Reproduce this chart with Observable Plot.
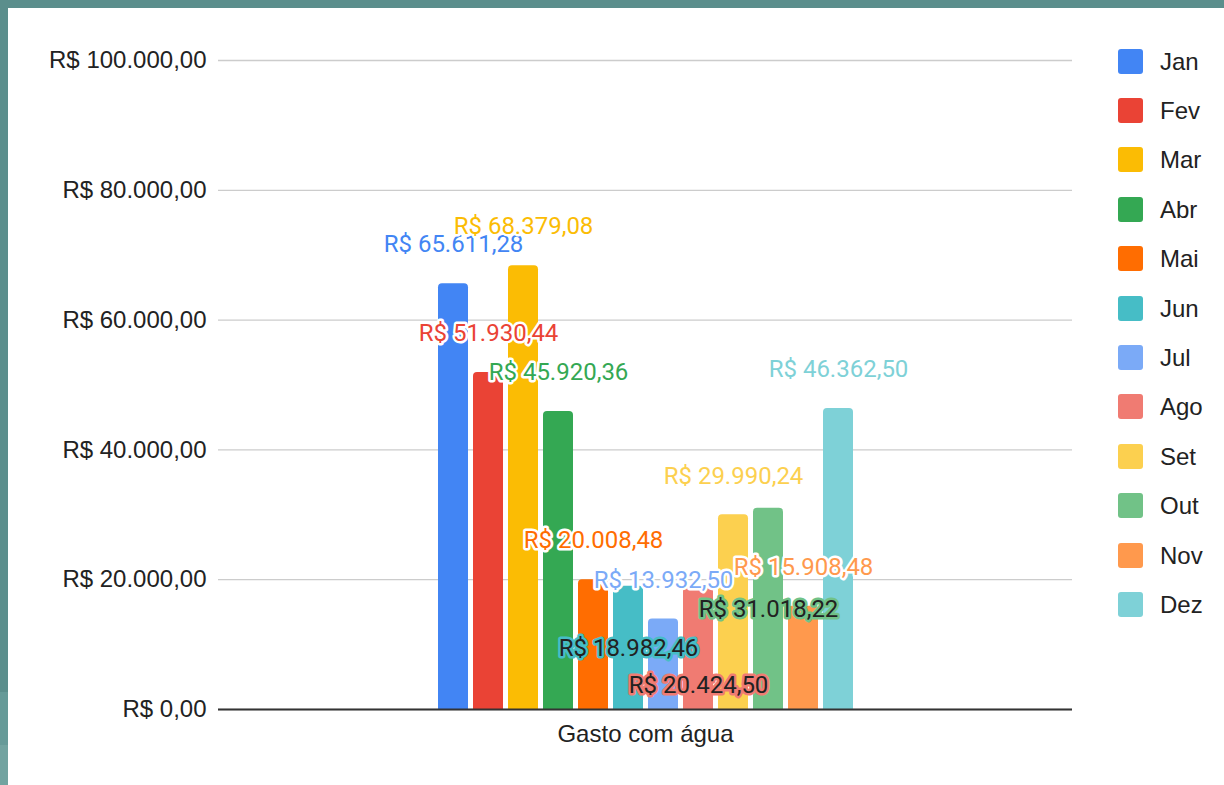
<!DOCTYPE html>
<html>
<head>
<meta charset="utf-8">
<script src="https://cdn.jsdelivr.net/npm/d3@7"></script>
<script src="https://cdn.jsdelivr.net/npm/@observablehq/plot@0.6"></script>
<style>
  html, body { margin: 0; padding: 0; }
  body {
    width: 1224px; height: 785px; overflow: hidden; position: relative;
    background: #5b8e8c;
    font-family: "Liberation Sans", Arial, sans-serif;
  }
  #strip1 { position: absolute; left: 0; top: 692px; width: 8px; height: 53px; background: #669a98; }
  #strip2 { position: absolute; left: 0; top: 745px; width: 8px; height: 40px; background: #72a3a0; }
  #card { position: absolute; left: 8px; top: 8px; width: 1216px; height: 777px; background: #ffffff; }
  #card svg { position: absolute; left: 0; top: 0; }
  .lg-item { position: absolute; left: 1110px; height: 25px; display: flex; align-items: center; }
  .lg-sw { width: 25px; height: 25px; border-radius: 3px; }
  .lg-tx { margin-left: 17px; font-size: 24px; color: #222; line-height: 25px; }
</style>
</head>
<body>
<div id="strip1"></div>
<div id="strip2"></div>
<div id="card"></div>
<script>
// ---- data ----
const category = "Gasto com água";
const months = ["Jan", "Fev", "Mar", "Abr", "Mai", "Jun", "Jul", "Ago", "Set", "Out", "Nov", "Dez"];
// bar heights
const values = [65611.28, 51930.44, 68379.08, 45920.36, 20008.48, 18982.46, 13932.50, 18950.00, 29990.24, 31018.22, 15908.48, 46362.50];
// values printed in the data labels
const labelValues = [65611.28, 51930.44, 68379.08, 45920.36, 20008.48, 18982.46, 13932.50, 20424.50, 29990.24, 31018.22, 15908.48, 46362.50];
const colors = ["#4285f4", "#ea4335", "#fbbc04", "#34a853", "#ff6d01", "#46bdc6", "#7baaf7", "#f07b72", "#fcd04f", "#71c287", "#ff994d", "#7ed1d7"];
const yTicks = [0, 20000, 40000, 60000, 80000, 100000];
// labels that Google placed inside their bars (dark text, coloured halo)
const insideLabels = ["Jun", "Out"];
const insideShifted = ["Ago"];

// ---- formatting ----
const br = d3.formatLocale({decimal: ",", thousands: ".", grouping: [3], currency: ["R$ ", ""]});
const fmt = br.format("$,.2f");

const data = months.map((m, i) => ({month: m, value: values[i], label: fmt(labelValues[i])}));
const above = data.filter(d => !insideLabels.includes(d.month) && !insideShifted.includes(d.month));
const inside = data.filter(d => insideLabels.includes(d.month));
const shifted = data.filter(d => insideShifted.includes(d.month));

const W = 1216, H = 777, mL = 210, mR = 152, mT = 52, mB = 76;
const step = 35, pIn = 5 / 35;
const pOut = ((W - mL - mR) / step - months.length + pIn) / 2;

const labelFont = "Roboto, 'Noto Sans', sans-serif";

const chart = Plot.plot({
  width: W, height: H,
  marginLeft: mL, marginRight: mR, marginTop: mT, marginBottom: mB,
  style: {fontFamily: "'Liberation Sans', Arial, sans-serif", fontSize: "24px", color: "#222", background: "transparent", overflow: "visible"},
  x: {domain: months, paddingInner: pIn, paddingOuter: pOut, axis: null},
  y: {domain: [0, 100000], axis: null},
  color: {domain: months, range: colors},
  marks: [
    Plot.gridY(yTicks, {stroke: "#cccccc", strokeOpacity: 1, strokeWidth: 1.3}),
    Plot.axisY(yTicks, {tickSize: 0, tickPadding: 12, tickFormat: fmt, label: null, fontSize: 24, fill: "#222"}),
    Plot.barY(data, {x: "month", y: "value", fill: "month", rx: 4, ry: 4, insetBottom: -8, clip: true}),
    Plot.ruleY([0], {stroke: "#333333", strokeWidth: 1.8}),
    Plot.text([category], {frameAnchor: "bottom", lineAnchor: "middle", dy: 25, fontSize: 24, fill: "#222"}),
    Plot.text(above, {x: "month", y: "value", text: "label", dy: -39, fill: "month",
      stroke: "white", strokeWidth: 5, fontSize: 24, fontFamily: labelFont}),
    Plot.text(inside, {x: "month", y: d => d.value / 2, text: "label", fill: "#222",
      stroke: "month", strokeWidth: 5, fontSize: 24, fontFamily: labelFont}),
    Plot.text(shifted, {x: "month", y: d => d.value / 2, text: "label", dy: 37, fill: "#222",
      stroke: "month", strokeWidth: 5, fontSize: 24, fontFamily: labelFont})
  ]
});
const card = document.getElementById("card");
card.appendChild(chart);

// ---- legend ----
months.forEach((m, i) => {
  const item = document.createElement("div");
  item.className = "lg-item";
  item.style.top = (53 + i * 49.4 - 12.5) + "px";
  item.innerHTML = `<div class="lg-sw" style="background:${colors[i]}"></div><div class="lg-tx">${m}</div>`;
  card.appendChild(item);
});
</script>
</body>
</html>
